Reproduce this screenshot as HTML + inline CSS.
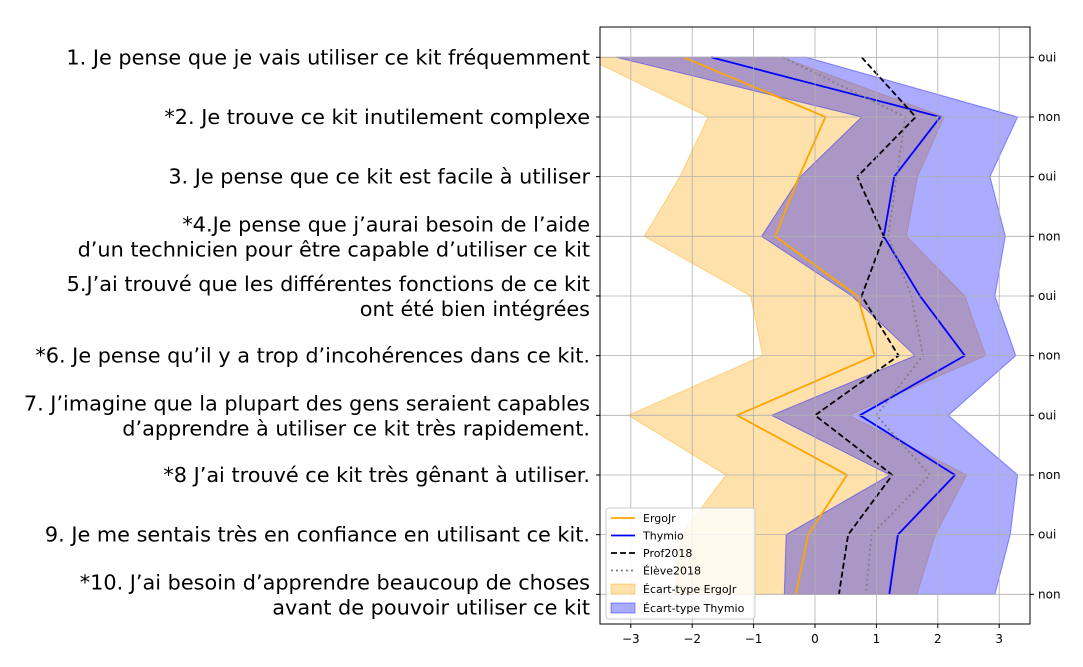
<!DOCTYPE html>
<html><head><meta charset="utf-8"><style>
body{margin:0;background:#fff;}
svg{display:block;font-family:"DejaVu Sans","Liberation Sans",sans-serif;}
</style></head><body>
<svg id="chart" width="1083" height="667"></svg>
<script>
const questions=[["1. Je pense que je vais utiliser ce kit fréquemment"],["*2. Je trouve ce kit inutilement complexe"],["3. Je pense que ce kit est facile à utiliser"],["*4.Je pense que j’aurai besoin de l’aide","d’un technicien pour être capable d’utiliser ce kit"],["5.J’ai trouvé que les différentes fonctions de ce kit","ont été bien intégrées"],["*6. Je pense qu’il y a trop d’incohérences dans ce kit."],["7. J’imagine que la plupart des gens seraient capables","d’apprendre à utiliser ce kit très rapidement."],["*8 J’ai trouvé ce kit très gênant à utiliser."],["9. Je me sentais très en confiance en utilisant ce kit."],["*10. J’ai besoin d’apprendre beaucoup de choses","avant de pouvoir utiliser ce kit"]];
const rightLabels=["oui","non","oui","non","oui","non","oui","non","oui","non"];
const xTicks=[-3,-2,-1,0,1,2,3];
const ergoMean=[-2.14,0.17,-0.26,-0.65,0.69,0.97,-1.27,0.52,-0.11,-0.31];
const ergoLow=[-3.74,-1.74,-2.2,-2.78,-1.05,-0.85,-3.04,-1.45,-2.18,-2.28];
const ergoHigh=[-0.54,2.1,1.67,1.49,2.44,2.78,0.55,2.47,1.96,1.66];
const thyMean=[-1.69,2.04,1.29,1.12,1.71,2.44,0.73,2.28,1.35,1.21];
const thyLow=[-3.24,0.76,-0.24,-0.87,0.6,1.63,-0.71,1.22,-0.47,-0.5];
const thyHigh=[-0.14,3.3,2.85,3.1,2.93,3.27,2.17,3.3,3.18,2.93];
const prof=[0.76,1.64,0.69,1.12,0.76,1.36,0.0,1.26,0.54,0.39];
const eleve=[-0.52,1.47,1.33,1.19,1.57,1.76,1.0,1.87,0.92,0.83];

const L=600,R=1030,T=27,B=624;
const xs=v=>815+v*61.4;
const ys=i=>57.3+i*59.67;
const svg=document.getElementById('chart');
const NS="http://www.w3.org/2000/svg";
function mk(t,a,parent){const e=document.createElementNS(NS,t);for(const k in a)e.setAttribute(k,a[k]);(parent||svg).appendChild(e);return e;}
const defs=mk('defs',{});const cp=mk('clipPath',{id:'clip'},defs);mk('rect',{x:L,y:T,width:R-L,height:B-T},cp);
const plot=mk('g',{'clip-path':'url(#clip)'});
xTicks.forEach(v=>{const g=mk('line',{x1:xs(v),x2:xs(v),y1:T,y2:B,stroke:'#b0b0b0','stroke-width':0.8});

});
questions.forEach((q,i)=>{const g=mk('line',{x1:L,x2:R,y1:ys(i),y2:ys(i),stroke:'#b0b0b0','stroke-width':0.8});

});
function band(lo,hi,fill,name){let d='';lo.forEach((v,i)=>d+=(i?'L':'M')+xs(v)+' '+ys(i));for(let i=hi.length-1;i>=0;i--)d+='L'+xs(hi[i])+' '+ys(i);
const p=mk('path',{d:d+'Z',fill:fill,'fill-opacity':0.33,stroke:fill,'stroke-opacity':0.4,'stroke-width':1},plot);

}
band(ergoLow,ergoHigh,'#ffa500','ergojr-std-band');
band(thyLow,thyHigh,'#0000ff','thymio-std-band');
function line(arr,col,dash,w,name){const pts=arr.map((v,i)=>xs(v)+','+ys(i)).join(' ');
const p=mk('polyline',{points:pts,fill:'none',stroke:col,'stroke-width':w,'stroke-dasharray':dash},plot);

}
line(ergoMean,'#ffa500','none',1.8,'ergojr-line');
line(thyMean,'#0000ff','none',1.8,'thymio-line');
line(prof,'#000','6,3',1.8,'prof2018-line');
line(eleve,'#808080','2,3',1.8,'eleve2018-line');
const fr=mk('rect',{x:L,y:T,width:R-L,height:B-T,fill:'none',stroke:'#000','stroke-width':1});


xTicks.forEach(v=>{mk('line',{x1:xs(v),x2:xs(v),y1:B,y2:B+4,stroke:'#000'});
const t=mk('text',{x:xs(v),y:B+19,'text-anchor':'middle','font-size':12});t.textContent=(v<0?'−':'')+Math.abs(v);

});
questions.forEach((q,i)=>{const y=ys(i);
mk('line',{x1:L-4,x2:L,y1:y,y2:y,stroke:'#000'});mk('line',{x1:R,x2:R+4,y1:y,y2:y,stroke:'#000'});
const r=mk('text',{x:R+8,y:y+4,'font-size':12});r.textContent=rightLabels[i];


q.forEach((s,j)=>{const yy=q.length==1?y+7:y-5+j*25;
const t=mk('text',{x:590,y:yy,'text-anchor':'end','font-size':20.8});t.textContent=s;

});});
const lg=mk('g',{});


mk('rect',{x:606,y:508,width:149,height:111,rx:3,fill:'#fff','fill-opacity':0.8,stroke:'#ccc'},lg);
const items=[['ErgoJr','line','#ffa500','none'],['Thymio','line','#0000ff','none'],['Prof2018','line','#000','6,3'],['Élève2018','line','#808080','2,3'],['Écart-type ErgoJr','patch','#ffa500'],['Écart-type Thymio','patch','#0000ff']];
items.forEach((it,k)=>{const y=518+k*17.5+(k>=4?(k-4)*1.5+1:0);
if(it[1]=='line')mk('line',{x1:611,x2:635,y1:y,y2:y,stroke:it[2],'stroke-width':1.8,'stroke-dasharray':it[3]},lg);
else mk('rect',{x:611,y:y-5,width:24,height:10,fill:it[2],'fill-opacity':0.33,stroke:it[2],'stroke-opacity':0.4},lg);
const t=mk('text',{x:643,y:y+4,'font-size':11},lg);t.textContent=it[0];

});
</script>
</body></html>
